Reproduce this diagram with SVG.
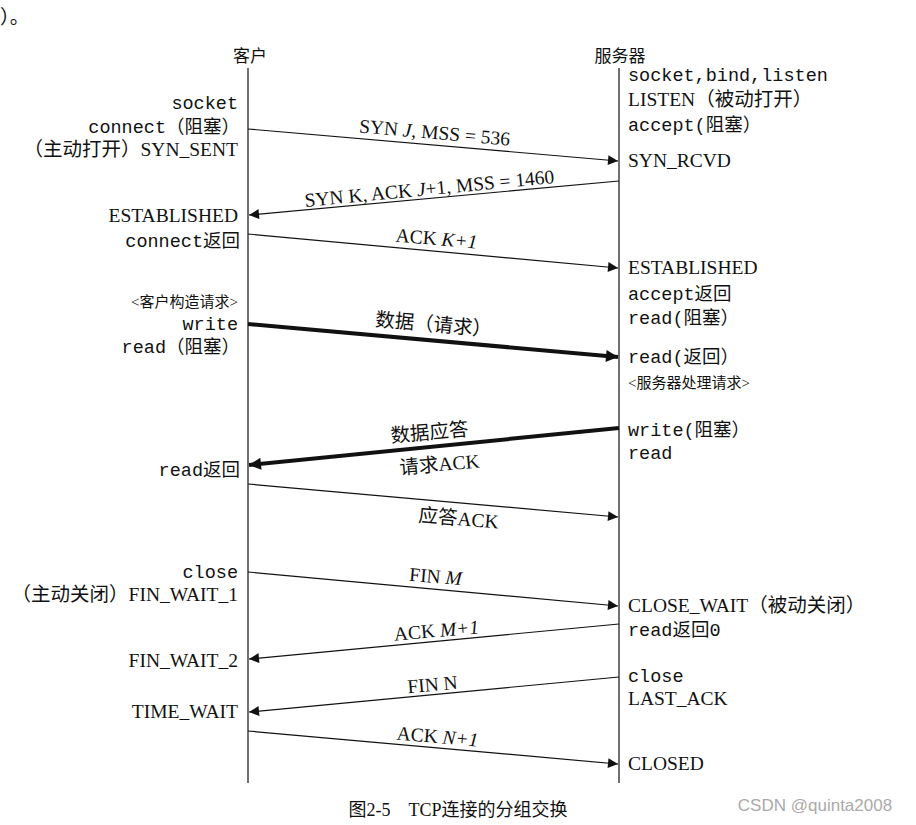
<svg xmlns="http://www.w3.org/2000/svg" width="916" height="825" viewBox="0 0 916 825">
<style>
.s{font-family:"Liberation Serif","Noto Sans CJK SC",serif;font-size:19.5px;fill:#111}
.m{font-family:"Liberation Mono","Noto Sans CJK SC",monospace;font-size:18.5px;fill:#111}
.r{text-anchor:end}
.c{text-anchor:middle}
.i{font-style:italic}
.ln{stroke:#111;stroke-width:1.2;fill:none}
.a{stroke:#111;stroke-width:1.2;marker-end:url(#ah)}
.t{stroke:#111;stroke-width:4;marker-end:url(#ahb)}
</style>
<defs>
<marker id="ah" viewBox="0 0 10 10" refX="10" refY="5" markerWidth="15" markerHeight="10" markerUnits="userSpaceOnUse" orient="auto"><path d="M0,0L10,5L0,10z" fill="#111"/></marker>
<marker id="ahb" viewBox="0 0 10 10" refX="10" refY="5" markerWidth="16" markerHeight="12" markerUnits="userSpaceOnUse" orient="auto"><path d="M0,0L10,5L0,10z" fill="#111"/></marker>
</defs>
<rect width="916" height="825" fill="#fff"/>
<text class="s" x="0" y="24">）。</text>
<g id="client"><text class="s c" x="250" y="62" style="font-size:17px">客户</text><line class="ln" x1="248" y1="68" x2="248" y2="783"/></g>
<g id="server"><text class="s c" x="620" y="62" style="font-size:17px">服务器</text><line class="ln" x1="619" y1="68" x2="619" y2="783"/></g>
<g id="client-labels">
<text class="m r" x="238" y="109">socket</text>
<text class="m r" x="240" y="133">connect（阻塞）</text>
<text class="s r" x="238" y="156">（主动打开）SYN_SENT</text>
<text class="s r" x="238" y="222">ESTABLISHED</text>
<text class="m r" x="240" y="247">connect返回</text>
<text class="s r" x="238" y="307" style="font-size:15px">&lt;客户构造请求&gt;</text>
<text class="m r" x="238" y="330">write</text>
<text class="m r" x="240" y="353">read（阻塞）</text>
<text class="m r" x="240" y="476">read返回</text>
<text class="m r" x="238" y="578">close</text>
<text class="s r" x="238" y="601">（主动关闭）FIN_WAIT_1</text>
<text class="s r" x="238" y="667">FIN_WAIT_2</text>
<text class="s r" x="238" y="718">TIME_WAIT</text>
</g>
<g id="server-labels">
<text class="m" x="628" y="81">socket,bind,listen</text>
<text class="s" x="628" y="106">LISTEN（被动打开）</text>
<text class="m" x="628" y="131">accept(阻塞）</text>
<text class="s" x="628" y="167">SYN_RCVD</text>
<text class="s" x="628" y="274">ESTABLISHED</text>
<text class="m" x="628" y="300">accept返回</text>
<text class="m" x="628" y="324">read(阻塞）</text>
<text class="m" x="628" y="363">read(返回）</text>
<text class="s" x="628" y="388" style="font-size:15px">&lt;服务器处理请求&gt;</text>
<text class="m" x="628" y="436">write(阻塞）</text>
<text class="m" x="628" y="459">read</text>
<text class="s" x="628" y="612">CLOSE_WAIT（被动关闭）</text>
<text class="m" x="628" y="636">read返回0</text>
<text class="m" x="628" y="682">close</text>
<text class="s" x="628" y="705">LAST_ACK</text>
<text class="s" x="628" y="770">CLOSED</text>
</g>
<g id="connectors">
<line class="a" x1="248" y1="129" x2="618" y2="161"/>
<line class="a" x1="619" y1="181" x2="249" y2="215"/>
<line class="a" x1="248" y1="234" x2="618" y2="268"/>
<line class="t" x1="248" y1="324" x2="618" y2="357"/>
<line class="t" x1="619" y1="428" x2="249" y2="465"/>
<line class="a" x1="248" y1="484" x2="618" y2="517"/>
<line class="a" x1="248" y1="572" x2="618" y2="606"/>
<line class="a" x1="619" y1="624" x2="249" y2="659"/>
<line class="a" x1="619" y1="677" x2="249" y2="712"/>
<line class="a" x1="248" y1="731" x2="618" y2="764"/>
</g>
<g id="arrow-labels">
<text class="s c" transform="translate(434,139) rotate(5)">SYN <tspan class="i">J</tspan>, MSS = 536</text>
<text class="s c" transform="translate(430,195) rotate(-5.5)">SYN K, ACK <tspan class="i">J</tspan>+1, MSS = 1460</text>
<text class="s c" transform="translate(436,245) rotate(5)">ACK <tspan class="i">K+1</tspan></text>
<text class="s c" transform="translate(433,331) rotate(5)">数据（请求）</text>
<text class="s c" transform="translate(430,439) rotate(-5)">数据应答</text>
<text class="s c" transform="translate(440,471) rotate(-5)">请求ACK</text>
<text class="s c" transform="translate(458,525) rotate(5)">应答ACK</text>
<text class="s c" transform="translate(435,583) rotate(5)">FIN <tspan class="i">M</tspan></text>
<text class="s c" transform="translate(437,637) rotate(-5)">ACK <tspan class="i">M+1</tspan></text>
<text class="s c" transform="translate(433,691) rotate(-5)">FIN N</text>
<text class="s c" transform="translate(437,743) rotate(5)">ACK <tspan class="i">N+1</tspan></text>
</g>
<text class="s c" x="458" y="816" style="font-size:18px">图2-5　TCP连接的分组交换</text>
<text x="815" y="811" style="font-family:'Liberation Sans',sans-serif;font-size:17px;fill:#aaa" text-anchor="middle">CSDN @quinta2008</text>
</svg>
